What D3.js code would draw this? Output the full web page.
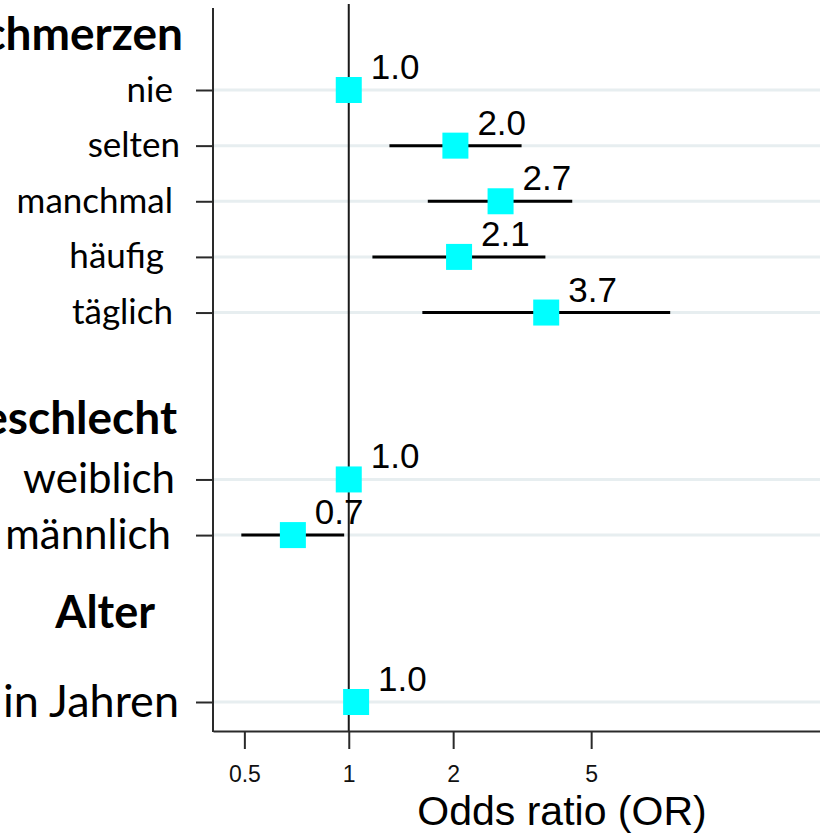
<!DOCTYPE html>
<html>
<head>
<meta charset="utf-8">
<script src="https://cdn.jsdelivr.net/npm/d3@7"></script>
<style>
  body { margin: 0; background: #fff; }
  svg { display: block; }
</style>
</head>
<body>
<svg id="chart"></svg>
<script>
// Zeilen (Kategorien) und Gruppen
const categories = ["nie", "selten", "manchmal", "häufig\u00a0", "täglich", "weiblich", "männlich", "in Jahren"];
const rowIndex = [0, 1, 2, 3, 4, 7, 8, 11];
const groupOf = [0, 0, 0, 0, 0, 1, 1, 2];
const groups = ["Kopfschmerzen", "Geschlecht", "Alter"];
const headerRow = [-1, 6, 10];

// Odds ratios mit Konfidenzintervall
const orValues = [1.0, 2.03, 2.74, 2.08, 3.71, 1.0, 0.69, 1.05];
const ciLower = [null, 1.31, 1.69, 1.17, 1.63, null, 0.49, 1.03];
const ciUpper = [null, 3.15, 4.41, 3.69, 8.45, null, 0.97, 1.07];
const orLabels = ["1.0", "2.0", "2.7", "2.1", "3.7", "1.0", "0.7", "1.0"];

const xTicks = [0.5, 1, 2, 5];

const width = 820, height = 835;
const axisLeft = 213, axisBottom = 731, plotTop = 8;

const svg = d3.select("#chart")
    .attr("width", width)
    .attr("height", height);

var xScale = d3.scaleLog()
    .domain([0.406, 23])
    .range([axisLeft, 821]);
var yScale = d3.scaleLinear()
    .domain([0, 11])
    .range([90, 702]);

const rows = categories.map((c, i) => ({
    name: c, row: rowIndex[i], group: groupOf[i],
    or: orValues[i], lo: ciLower[i], hi: ciUpper[i], label: orLabels[i]
}));

// Gitterlinien
svg.append("g")
    .selectAll("line")
    .data(rows)
    .join("line")
    .attr("x1", axisLeft)
    .attr("x2", width)
    .attr("y1", d => yScale(d.row))
    .attr("y2", d => yScale(d.row))
    .attr("stroke", "#e7eef0")
    .attr("stroke-width", 3);

// Referenzlinie bei OR = 1
svg.append("line")
    .attr("x1", xScale(1)).attr("x2", xScale(1))
    .attr("y1", 4).attr("y2", axisBottom)
    .attr("stroke", "#1a1a1a")
    .attr("stroke-width", 2);

// x-Achse
const xAxis = svg.append("g")
    .attr("transform", `translate(0, ${axisBottom})`)
    .call(d3.axisBottom(xScale)
        .tickValues(xTicks)
        .tickFormat(d3.format(""))
        .tickSize(18)
        .tickPadding(17)
        .tickSizeOuter(0));
xAxis.select(".domain").attr("stroke", "#2a2a2a").attr("stroke-width", 2);
xAxis.selectAll(".tick line").attr("stroke", "#2a2a2a").attr("stroke-width", 2);
xAxis.selectAll(".tick text")
    .attr("font-family", "'Liberation Sans', Arial, sans-serif")
    .attr("font-size", 23)
    .attr("fill", "#111");

// y-Achse
const yAxis = svg.append("g")
    .attr("transform", `translate(${axisLeft}, 0)`)
    .call(d3.axisLeft(yScale)
        .tickValues(rowIndex)
        .tickFormat("")
        .tickSize(17)
        .tickSizeOuter(0));
yAxis.select(".domain").remove();
yAxis.selectAll(".tick line").attr("stroke", "#2a2a2a").attr("stroke-width", 2);
svg.append("line")
    .attr("x1", axisLeft).attr("x2", axisLeft)
    .attr("y1", plotTop).attr("y2", axisBottom + 1)
    .attr("stroke", "#2a2a2a")
    .attr("stroke-width", 2);

svg.append("text")
    .attr("x", 562)
    .attr("y", 825)
    .attr("text-anchor", "middle")
    .attr("font-family", "'Liberation Sans', Arial, sans-serif")
    .attr("font-size", 41)
    .attr("fill", "#000")
    .text("Odds ratio (OR)");

// Konfidenzintervalle
svg.append("g")
    .selectAll("line")
    .data(rows.filter(d => d.lo != null))
    .join("line")
    .attr("x1", d => xScale(d.lo))
    .attr("x2", d => xScale(d.hi))
    .attr("y1", d => yScale(d.row))
    .attr("y2", d => yScale(d.row))
    .attr("stroke", "#000")
    .attr("stroke-width", 3);

// Punktschaetzer
const sq = 26;
svg.append("g")
    .selectAll("rect")
    .data(rows)
    .join("rect")
    .attr("x", d => xScale(d.or) - sq / 2)
    .attr("y", d => yScale(d.row) - sq / 2)
    .attr("width", sq)
    .attr("height", sq)
    .attr("fill", "#00ffff");

svg.append("g")
    .selectAll("text")
    .data(rows)
    .join("text")
    .attr("x", d => xScale(d.or) + 22)
    .attr("y", d => yScale(d.row) - 11)
    .attr("font-family", "'Liberation Sans', Arial, sans-serif")
    .attr("font-size", 35)
    .attr("fill", "#000")
    .text(d => d.label);

// Beschriftung links
const labelSize = [35, 42, 45];
const labelRight = [173, 175, 179];
const labelShift = { "selten": 7, "männlich": -4 };
svg.append("g")
    .selectAll("text")
    .data(rows)
    .join("text")
    .attr("x", d => labelRight[d.group] + (labelShift[d.name] || 0))
    .attr("y", d => yScale(d.row) + labelSize[d.group] * 0.33)
    .attr("text-anchor", "end")
    .style("white-space", "pre")
    .attr("font-family", "Lato, 'Open Sans', sans-serif")
    .attr("font-size", d => labelSize[d.group])
    .attr("fill", "#000")
    .text(d => d.name);

const headerSize = [46, 46, 45];
const headerRight = [183, 177, 155];
const headerDy = [16, 10, -18];
svg.append("g")
    .selectAll("text")
    .data(groups)
    .join("text")
    .attr("x", (d, i) => headerRight[i])
    .attr("y", (d, i) => yScale(headerRow[i]) + headerDy[i])
    .attr("text-anchor", "end")
    .attr("font-family", "Lato, 'Open Sans', sans-serif")
    .attr("font-weight", "bold")
    .attr("font-size", (d, i) => headerSize[i])
    .attr("fill", "#000")
    .text(d => d);
</script>
</body>
</html>
